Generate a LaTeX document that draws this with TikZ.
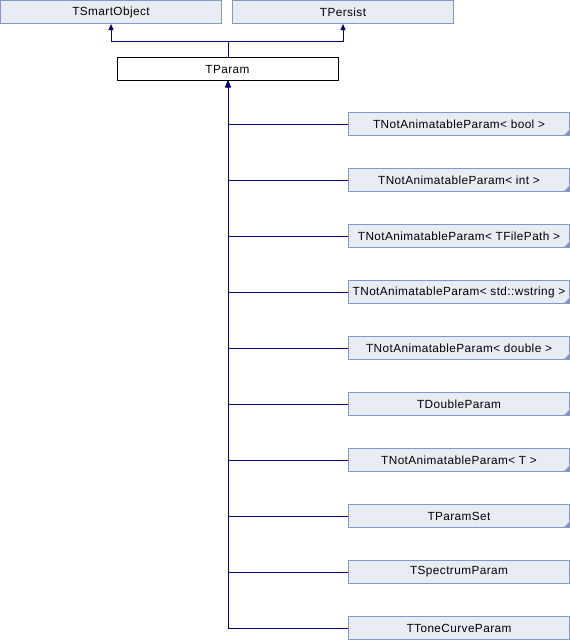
\documentclass[tikz,border=0pt]{standalone}
\usepackage{fontspec}
\setmainfont{Liberation Sans}[LetterSpace=3.5]
\usetikzlibrary{arrows.meta}
\definecolor{boxfill}{HTML}{E8ECF4}
\definecolor{boxline}{HTML}{8497CC}
\definecolor{linkline}{HTML}{000088}
\begin{document}
\begin{tikzpicture}[x=1pt,y=-1pt,
  cls/.style={draw=boxline,fill=boxfill,line width=1pt,minimum width=221pt,minimum height=23pt,
    inner sep=0pt,font=\fontsize{11.8}{13}\selectfont},
  cur/.style={draw=black,fill=white,line width=1pt,minimum width=221pt,minimum height=23pt,
    inner sep=0pt,font=\fontsize{11.8}{13}\selectfont},
  inherit/.style={draw=linkline,line width=1pt,-{Triangle[width=5pt,length=6pt]}},
  link/.style={draw=linkline,line width=1pt}]
\useasboundingbox (0,0) rectangle (570,640);

% base classes and the class itself
\node[cls] (tsmart) at (111,12) {TSmartObject};
\node[cls] (tpersist) at (343,12) {TPersist};
\node[cur] (tparam) at (227.5,69) {TParam};

% derived classes
\foreach \n/\t [count=\i from 0] in {
  cb/{TNotAnimatableParam< bool >},
  ci/{TNotAnimatableParam< int >},
  cf/{TNotAnimatableParam< TFilePath >},
  cw/{TNotAnimatableParam< std::wstring >},
  cd/{TNotAnimatableParam< double >},
  cdp/{TDoubleParam},
  ct/{TNotAnimatableParam< T >},
  cps/{TParamSet},
  csp/{TSpectrumParam},
  ctc/{TToneCurveParam}} {
  \node[cls] (\n) at (459,124+56*\i) {\t};
}

% marks on classes with a collapsed subtree
\foreach \n in {cb,ci,cf,cw,cd,cdp,ct,cps} {
  \fill[boxline] ([xshift=-0.5pt,yshift=0.5pt]\n.south east) -- ++(-6,0) -- ++(6,-6) -- cycle;
}

% inheritance connectors
\coordinate (junc) at (228,41);
\draw[link] (tparam.north -| junc) -- (junc);
\draw[inherit] (junc) -| (tsmart.south);
\draw[inherit] (junc) -| (tpersist.south);
\foreach \n in {cb,ci,cf,cw,cd,cdp,ct,cps,csp,ctc} {
  \draw[inherit] (\n.west) -| ([xshift=0.5pt]tparam.south);
}
\end{tikzpicture}
\end{document}
